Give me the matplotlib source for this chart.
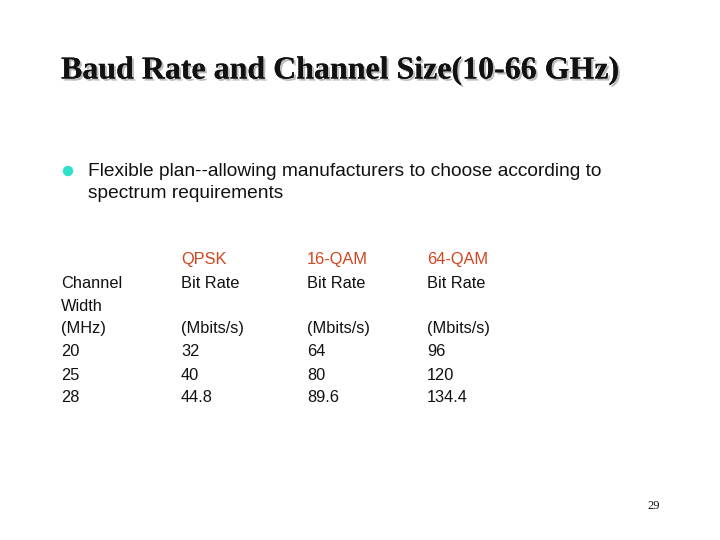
import matplotlib
matplotlib.use("Agg")
import matplotlib.pyplot as plt
import matplotlib.patheffects as pe

title = "Baud Rate and Channel Size(10-66 GHz)"
bullet_lines = ["Flexible plan--allowing manufacturers to choose according to",
                "spectrum requirements"]
modulations = ["QPSK", "16-QAM", "64-QAM"]
width_label = ["Channel", "Width", "(MHz)"]
widths = ["20", "25", "28"]
qpsk = ["32", "40", "44.8"]
qam16 = ["64", "80", "89.6"]
qam64 = ["96", "120", "134.4"]
page = "29"

W, H = 720, 540
fig = plt.figure(figsize=(7.2, 5.4), dpi=100)
fig.patch.set_facecolor("white")

def t(x, y, s, **kw):
    fig.text(x / W, 1 - y / H, s, va="center", **kw)

t(61, 71, title, family="Liberation Serif", weight="bold", fontsize=23, color="#111111",
  path_effects=[pe.withSimplePatchShadow(offset=(1.5, -1.5), shadow_rgbFace="#bbbbbb", alpha=1), pe.Normal()])

fig.patches.append(matplotlib.patches.Ellipse((68 / W, 1 - 171 / H), 9 / W, 9 / H, transform=fig.transFigure,
                                              color="#2ee0c8", figure=fig))
body = dict(family="Liberation Sans", fontsize=13.8, color="#111111")
t(88, 171, bullet_lines[0], **body)
t(88, 193, bullet_lines[1], **body)

fs = 11.8
tab = dict(family="Liberation Sans", fontsize=fs, color="#111111")
red = "#d2451e"
cols = [181, 307, 427]
data = [qpsk, qam16, qam64]
for x, m, vals in zip(cols, modulations, data):
    t(x, 260, m, family="Liberation Sans", fontsize=fs, color=red)
    t(x, 283, "Bit Rate", **tab)
    t(x, 329, "(Mbits/s)", **tab)
    for i, v in enumerate(vals):
        t(x, 352 + 23 * i, v, **tab)
for i, s in enumerate(width_label):
    t(61, 284 + 22.5 * i, s, **tab)
for i, s in enumerate(widths):
    t(61, 352 + 23 * i, s, **tab)

t(660, 506, page, family="Liberation Serif", fontsize=9, color="#111111", ha="right")

fig.savefig("out.png", dpi=100)
